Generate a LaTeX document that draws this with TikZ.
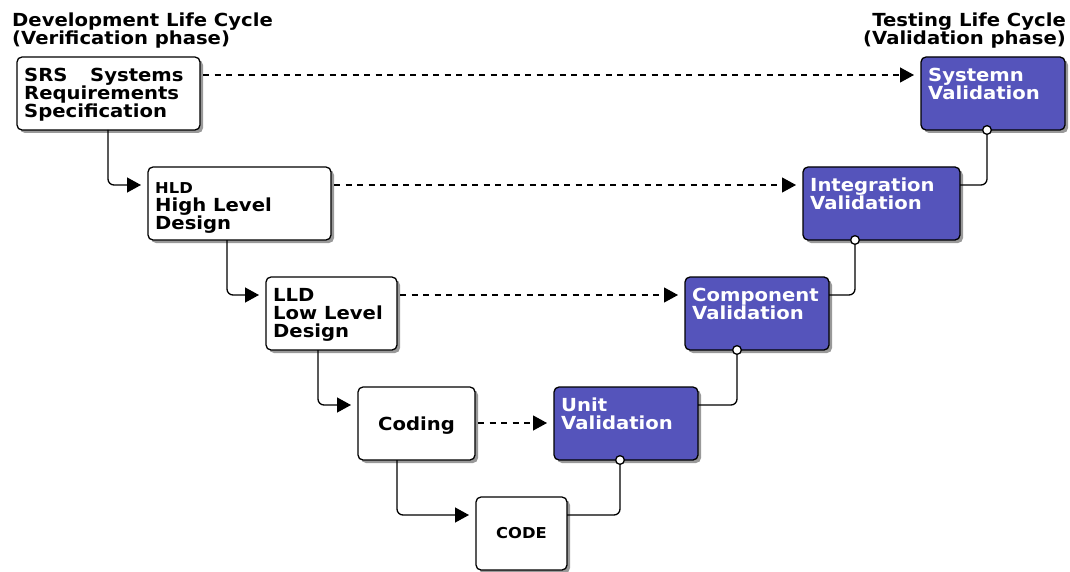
\documentclass[tikz,border=0pt]{standalone}
\usepackage{fontspec}
\setmainfont[FakeStretch=1.09]{DejaVu Sans}
\usetikzlibrary{arrows.meta,shadows,calc}
\definecolor{valblue}{RGB}{85,84,187}

\tikzset{
  stage/.style={draw=black, line width=1.3pt, rounded corners=5pt, fill=white,
    anchor=north west, inner sep=0pt, outer sep=0pt,
    drop shadow={shadow xshift=3pt, shadow yshift=-3pt, fill=black!40, opacity=1}},
  dev/.style={stage},
  val/.style={stage, fill=valblue},
  lbl/.style={anchor=north west, inner sep=0pt, align=left,
    font=\bfseries\fontsize{18}{18}\selectfont},
  vlbl/.style={lbl, text=white},
  heading/.style={inner sep=0pt, font=\bfseries\fontsize{18}{18}\selectfont},
  tip/.style={-{Triangle[length=14pt,width=15pt]}},
  flow/.style={line width=1.3pt, rounded corners=6pt, tip, shorten >=7pt},
  trace/.style={line width=1.2pt, dash pattern=on 6pt off 5.5pt,
    tip, shorten >=7pt, shorten <=3pt},
  feed/.style={line width=1.3pt, rounded corners=6pt,
    {Circle[fill=white,length=10pt,width=10pt]}-, shorten <=-5pt},
}

\begin{document}
\begin{tikzpicture}[x=1pt, y=-1pt]
  \useasboundingbox (0,0) rectangle (1070,572);

  % headings
  \node[heading, anchor=north west, align=left] (devhead) at (12,13)
    {Development Life Cycle\\(Verification phase)};
  \node[heading, anchor=north east, align=right] (testhead) at (1066,13)
    {Testing Life Cycle\\(Validation phase)};

  % development stages
  \node[dev, minimum width=183pt, minimum height=73pt] (srs) at (17,57) {};
  \node[dev, minimum width=183pt, minimum height=73pt] (hld) at (148,167) {};
  \node[dev, minimum width=131pt, minimum height=73pt] (lld) at (266,277) {};
  \node[dev, minimum width=117pt, minimum height=73pt, text depth=0pt,
        font=\bfseries\fontsize{18}{18}\selectfont] (coding) at (358,387) {Coding};
  \node[dev, minimum width=91pt, minimum height=73pt,
        font=\bfseries\fontsize{15}{15}\selectfont] (code) at (476,497) {CODE};

  % validation stages
  \node[val, minimum width=144pt, minimum height=73pt] (sysv) at (921,57) {};
  \node[val, minimum width=157pt, minimum height=73pt] (intv) at (803,167) {};
  \node[val, minimum width=144pt, minimum height=73pt] (compv) at (685,277) {};
  \node[val, minimum width=144pt, minimum height=73pt] (unitv) at (554,387) {};

  % stage texts
  \node[lbl] (srs-t) at ($(srs.north west)+(7,11)$)
    {\makebox[66pt][l]{SRS}Systems\\Requirements\\Specification};
  \node[lbl] (hld-t) at ($(hld.north west)+(7,15)$)
    {{\fontsize{15}{18}\selectfont HLD}\\High Level\\Design};
  \node[lbl] (lld-t) at ($(lld.north west)+(7,11)$)
    {LLD\\Low Level\\Design};
  \node[vlbl] (sysv-t) at ($(sysv.north west)+(7,11)$) {Systemn\\Validation};
  \node[vlbl] (intv-t) at ($(intv.north west)+(7,11)$) {Integration\\Validation};
  \node[vlbl] (compv-t) at ($(compv.north west)+(7,11)$) {Component\\Validation};
  \node[vlbl] (unitv-t) at ($(unitv.north west)+(7,11)$) {Unit\\Validation};

  % descending development flow
  \draw[flow] ($(srs.south west)+(91,0)$) |- ($(hld.north west)+(0,18)$);
  \draw[flow] ($(hld.south west)+(79,0)$) |- ($(lld.north west)+(0,18)$);
  \draw[flow] ($(lld.south west)+(52,0)$) |- ($(coding.north west)+(0,18)$);
  \draw[flow] ($(coding.south west)+(39,0)$) |- ($(code.north west)+(0,18)$);

  % verification-to-validation traces
  \draw[trace] ($(srs.north east)+(0,18)$) -- ($(sysv.north west)+(0,18)$);
  \draw[trace] ($(hld.north east)+(0,18)$) -- ($(intv.north west)+(0,18)$);
  \draw[trace] ($(lld.north east)+(0,18)$) -- ($(compv.north west)+(0,18)$);
  \draw[trace] ($(coding.north east)+(0,36)$) -- ($(unitv.north west)+(0,36)$);

  % ascending validation flow
  \draw[feed] ($(unitv.south west)+(66,0)$) |- ($(code.north east)+(0,18)$);
  \draw[feed] ($(compv.south west)+(52,0)$) |- ($(unitv.north east)+(0,18)$);
  \draw[feed] ($(intv.south west)+(52,0)$) |- ($(compv.north east)+(0,18)$);
  \draw[feed] ($(sysv.south west)+(66,0)$) |- ($(intv.north east)+(0,18)$);
\end{tikzpicture}
\end{document}
